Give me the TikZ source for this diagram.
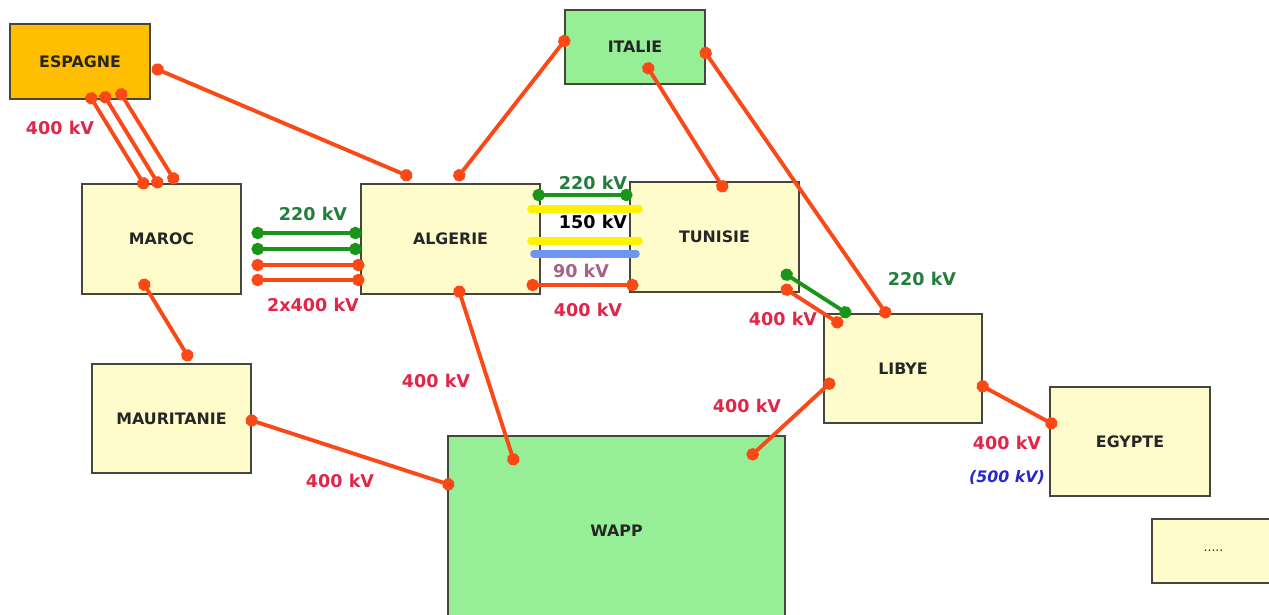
\documentclass[tikz,border=0pt]{standalone}
\usepackage{fontspec}
\setmainfont{DejaVu Sans}
\usepackage{tikz}
\usetikzlibrary{arrows.meta, calc}
\definecolor{paleyellow}{RGB}{255,252,204}
\definecolor{palegreen}{RGB}{150,238,150}
\definecolor{spainorange}{RGB}{255,190,0}
\definecolor{boxedge}{RGB}{70,70,60}
\definecolor{linered}{RGB}{250,72,22}
\definecolor{linegreen}{RGB}{25,150,25}
\definecolor{lineyellow}{RGB}{255,242,0}
\definecolor{lineblue}{RGB}{110,150,240}
\definecolor{labred}{RGB}{225,38,72}
\definecolor{labgreen}{RGB}{35,125,60}
\definecolor{labblue}{RGB}{40,40,200}
\definecolor{labmauve}{RGB}{165,100,135}
\tikzset{
    cbox/.style={rectangle, draw=boxedge, fill=#1, line width=0.8pt, align=center, font=\bfseries\fontsize{9}{11}\selectfont, text=black!85},
    tie/.style={draw=#1, line width=2.2pt, {Circle[length=7pt]}-{Circle[length=7pt]}, shorten <=-3.5pt, shorten >=-3.5pt},
    bar/.style={draw=#1, line width=4pt, line cap=round},
    kv/.style={font=\bfseries\fontsize{10}{12}\selectfont, text=#1, inner sep=1pt}
}

\begin{document}
\begin{tikzpicture}[x=0.02cm, y=-0.02cm]

\clip (0,0) rectangle (1269,615);
\fill[white] (0,0) rectangle (1269,615);

% countries
\node[cbox=spainorange, minimum width=2.8cm, minimum height=1.5cm] (esp) at (80,61.5) {ESPAGNE};
\node[cbox=palegreen, minimum width=2.8cm, minimum height=1.48cm] (ita) at (635,47) {ITALIE};
\node[cbox=paleyellow, minimum width=3.18cm, minimum height=2.2cm] (mar) at (161.5,239) {MAROC};
\node[cbox=paleyellow, minimum width=3.58cm, minimum height=2.2cm] (alg) at (450.5,239) {ALGERIE};
\node[cbox=paleyellow, minimum width=3.38cm, minimum height=2.2cm] (tun) at (714.5,237) {TUNISIE};
\node[cbox=paleyellow, minimum width=3.16cm, minimum height=2.18cm] (lib) at (903,368.5) {LIBYE};
\node[cbox=paleyellow, minimum width=3.18cm, minimum height=2.18cm] (mau) at (171.5,418.5) {MAURITANIE};
\node[cbox=palegreen, minimum width=6.74cm, minimum height=3.78cm] (wapp) at (616.5,530.5) {WAPP};
\node[cbox=paleyellow, minimum width=3.2cm, minimum height=2.18cm] (egy) at (1130,441.5) {EGYPTE};
\node[cbox=paleyellow, minimum width=2.46cm, minimum height=1.28cm, font=\fontsize{7}{8}\selectfont] (etc) at (1213.5,551) {.....};

% Algerie - Tunisie bundle
\draw[bar=lineyellow] ($(alg.east)+(-10,-30)$) -- ($(tun.west)+(10,-28)$);
\draw[bar=lineyellow] ($(alg.east)+(-10,2)$) -- ($(tun.west)+(10,4)$);
\draw[bar=lineblue] ($(alg.east)+(-7,15)$) -- ($(tun.west)+(7,17)$);
\draw[tie=linegreen] ($(alg.east)+(-2,-44)$) -- ($(tun.west)+(-3,-42)$);
\draw[tie=linered] ($(alg.east)+(-8,46)$) -- ($(tun.west)+(3,48)$);

% Espagne - Maroc
\draw[tie=linered] ($(esp.north west)+(82,75)$) -- ($(mar.north west)+(62,0)$);
\draw[tie=linered] ($(esp.north west)+(96,74)$) -- ($(mar.north west)+(76,-1)$);
\draw[tie=linered] ($(esp.north west)+(112,71)$) -- ($(mar.north west)+(92,-5)$);

% Maroc - Algerie
\draw[tie=linegreen] ($(mar.east)+(16,-6)$) -- ($(alg.west)+(-5,-6)$);
\draw[tie=linegreen] ($(mar.east)+(16,10)$) -- ($(alg.west)+(-5,10)$);
\draw[tie=linered] ($(mar.east)+(16,26)$) -- ($(alg.west)+(-2,26)$);
\draw[tie=linered] ($(mar.east)+(16,41)$) -- ($(alg.west)+(-2,41)$);

% other links
\draw[tie=linered] ($(esp.east)+(7,8)$) -- ($(alg.north west)+(46,-8)$);
\draw[tie=linered] ($(ita.west)+(0,-6)$) -- ($(alg.north west)+(99,-8)$);
\draw[tie=linered] ($(ita.north west)+(84,59)$) -- ($(tun.north west)+(93,5)$);
\draw[tie=linered] ($(ita.east)+(0,6)$) -- ($(lib.north west)+(62,-1)$);
\draw[tie=linegreen] ($(tun.south east)+(-13,-18)$) -- ($(lib.north west)+(22,-1)$);
\draw[tie=linered] ($(tun.south east)+(-13,-3)$) -- ($(lib.north west)+(14,9)$);
\draw[tie=linered] ($(mar.south west)+(63,-10)$) -- ($(mau.north west)+(96,-8)$);
\draw[tie=linered] ($(mau.east)+(0,2)$) -- ($(wapp.north west)+(1,49)$);
\draw[tie=linered] ($(alg.south west)+(99,-3)$) -- ($(wapp.north west)+(66,24)$);
\draw[tie=linered] ($(wapp.north east)+(-33,19)$) -- ($(lib.south west)+(6,-40)$);
\draw[tie=linered] ($(lib.north east)+(0,73)$) -- ($(egy.north west)+(2,37)$);

% voltages
\node[kv=labred] (vEspMar) at (60,128) {400 kV};
\node[kv=labgreen] (vMarAlgA) at (313,214) {220 kV};
\node[kv=labred] (vMarAlgB) at (313,305) {2x400 kV};
\node[kv=labgreen] (vAlgTunA) at (593,183) {220 kV};
\node[kv=black] (vAlgTunB) at (593,222) {150 kV};
\node[kv=labmauve] (vAlgTunC) at (581,271) {90 kV};
\node[kv=labred] (vAlgTunD) at (588,310) {400 kV};
\node[kv=labgreen] (vTunLibA) at (922,279) {220 kV};
\node[kv=labred] (vTunLibB) at (783,319) {400 kV};
\node[kv=labred] (vAlgWapp) at (436,381) {400 kV};
\node[kv=labred] (vMauWapp) at (340,481) {400 kV};
\node[kv=labred] (vLibWapp) at (747,406) {400 kV};
\node[kv=labred] (vLibEgy) at (1007,443) {400 kV};
\node[kv=labblue, font=\bfseries\itshape\fontsize{9}{11}\selectfont] (vLibEgyB) at (1007,478) {(500 kV)};

\end{tikzpicture}
\end{document}
